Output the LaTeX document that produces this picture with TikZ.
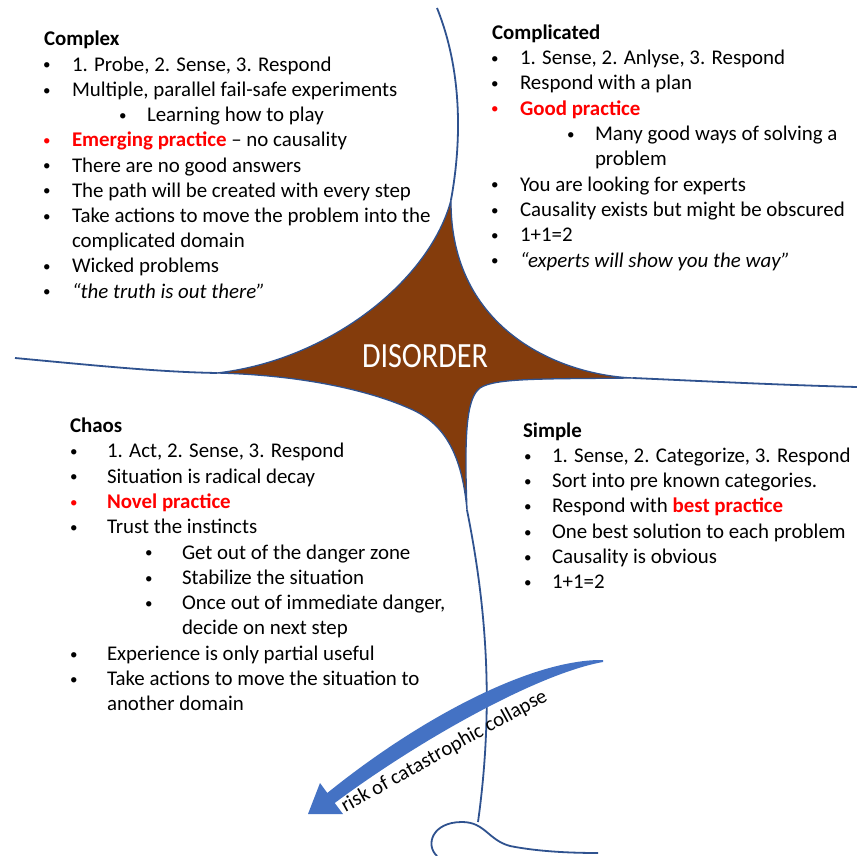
\documentclass[tikz,border=0pt]{standalone}
\usepackage{fontspec}
\usepackage{graphicx}
\setmainfont{Carlito}
\usetikzlibrary{arrows.meta,decorations.text}
\definecolor{lineblue}{HTML}{2F528F}
\definecolor{arrowblue}{HTML}{4472C4}
\definecolor{disbrown}{HTML}{843C0C}
\definecolor{pptred}{HTML}{FF0000}
\newcommand{\dotb}{\raisebox{1.2pt}{\scalebox{0.72}{•}}}
\newcommand{\bx}[2]{\makebox[#1pt][l]{#2}}
\begin{document}
\begin{tikzpicture}[x=1pt, y=-1pt,
  txt/.style={anchor=base west, inner sep=0pt, outer sep=0pt, font=\fontsize{20.9}{25}\selectfont, text=black},
  bnd/.style={draw=lineblue, line width=1.8pt},
  lobe/.style={fill=disbrown, draw=lineblue, line width=1.3pt},
  arr/.style={fill=arrowblue},
  disl/.style={text=white, inner sep=0pt},
  riskpath/.style={decorate, decoration={text along path, text align=center,
      text={|\fontsize{20.6}{24}\selectfont|risk of catastrophic collapse}}}]
\useasboundingbox[fill=white] (0,0) rectangle (857,856);

% tips of the disorder shape
\coordinate (tT) at (451,200);
\coordinate (tR) at (633,378);
\coordinate (tB) at (467,510);
\coordinate (tL) at (217,373);
\coordinate (eT) at (437,8);
\coordinate (eL) at (15,358);
\coordinate (eR) at (857,387);
\coordinate (eB) at (478,822);
\coordinate (fL) at (437,856);
\coordinate (fR) at (598,853);
\coordinate (aT) at (603,660);
\coordinate (rS) at (345,813);
\coordinate (rE) at (549,700);

% disorder shape
\filldraw[lobe] (tT) .. controls (450,330) and (560,375) .. (tR)
  .. controls (540,379) and (495,378) .. (480,388)
  .. controls (467,398) and (464,430) .. (tB)
  .. controls (462,455) and (445,425) .. (413,410)
  .. controls (370,390) and (300,375) .. (tL)
  .. controls (330,360) and (430,280) .. (tT) -- cycle;

% boundaries
\draw[bnd] (tT) .. controls (462,140) and (462,70) .. (eT);
\draw[bnd] (tL) .. controls (160,372) and (100,366) .. (eL);
\draw[bnd] (tR) .. controls (700,381) and (780,385) .. (eR);
\draw[bnd] (tB) .. controls (485,600) and (495,700) .. (eB);
\draw[bnd] (fL) .. controls (425,845) and (432,822) .. (462,822)
  .. controls (485,822) and (488,840) .. (510,846)
  .. controls (540,852) and (575,853) .. (fR);

% arrow (drawn over the boundary)
\fill[arr] (aT) .. controls (532,659) and (420,718) .. (327.3,793) -- (320,783) -- (308,814) -- (343,814) -- (334.7,803) .. controls (422,738) and (540,673) .. (603,662) -- cycle;

% label along the arrow
\path[riskpath] (rS) .. controls (410,777) and (480,737) .. (rE);

\node[disl] (dis) at (425,356.5) {\resizebox{126pt}{23pt}{DISORDER}};

% Complex
\node[txt] (cx0) at (44,46) {\textbf{Complex}};
\node[txt] (cx1) at (43,71.2) {\bx{29}{\dotb}1. Probe, 2. Sense, 3. Respond};
\node[txt] (cx2) at (43,96.4) {\bx{29}{\dotb}Multiple, parallel fail-safe experiments};
\node[txt] (cx3) at (119,121.6) {\bx{28}{\dotb}Learning how to play};
\node[txt] (cx4) at (43,146.8) {\bx{29}{\textcolor{pptred}{\dotb}}\textcolor{pptred}{\textbf{Emerging practice}} – no causality};
\node[txt] (cx5) at (43,172) {\bx{29}{\dotb}There are no good answers};
\node[txt] (cx6) at (43,197.2) {\bx{29}{\dotb}The path will be created with every step};
\node[txt] (cx7) at (43,222.4) {\bx{29}{\dotb}Take actions to move the problem into the};
\node[txt] (cx8) at (72,247.6) {complicated domain};
\node[txt] (cx9) at (43,272.8) {\bx{29}{\dotb}Wicked problems};
\node[txt] (cx10) at (43,298) {\bx{29}{\dotb}\textit{“the truth is out there”}};

% Complicated
\node[txt] (cp0) at (492,39.3) {\textbf{Complicated}};
\node[txt] (cp1) at (491,64.6) {\bx{29}{\dotb}1. Sense, 2. Anlyse, 3. Respond};
\node[txt] (cp2) at (491,89.9) {\bx{29}{\dotb}Respond with a plan};
\node[txt] (cp3) at (491,115.2) {\bx{29}{\textcolor{pptred}{\dotb}}\textcolor{pptred}{\textbf{Good practice}}};
\node[txt] (cp4) at (567,140.5) {\bx{28}{\dotb}Many good ways of solving a};
\node[txt] (cp5) at (595,165.8) {problem};
\node[txt] (cp6) at (491,191.1) {\bx{29}{\dotb}You are looking for experts};
\node[txt] (cp7) at (491,216.4) {\bx{29}{\dotb}Causality exists but might be obscured};
\node[txt] (cp8) at (491,241.7) {\bx{29}{\dotb}1+1=2};
\node[txt] (cp9) at (491,267) {\bx{29}{\dotb}\textit{“experts will show you the way”}};

% Chaos
\node[txt] (ch0) at (70,432.5) {\textbf{Chaos}};
\node[txt] (ch1) at (70,457.8) {\bx{37}{\dotb}1. Act, 2. Sense, 3. Respond};
\node[txt] (ch2) at (70,483.1) {\bx{37}{\dotb}Situation is radical decay};
\node[txt] (ch3) at (70,508.4) {\bx{37}{\textcolor{pptred}{\dotb}}\textcolor{pptred}{\textbf{Novel practice}}};
\node[txt] (ch4) at (70,533.7) {\bx{37}{\dotb}Trust the instincts};
\node[txt] (ch5) at (145,559) {\bx{37}{\dotb}Get out of the danger zone};
\node[txt] (ch6) at (145,584.3) {\bx{37}{\dotb}Stabilize the situation};
\node[txt] (ch7) at (145,609.6) {\bx{37}{\dotb}Once out of immediate danger,};
\node[txt] (ch8) at (182,634.9) {decide on next step};
\node[txt] (ch9) at (70,660.2) {\bx{37}{\dotb}Experience is only partial useful};
\node[txt] (ch10) at (70,685.5) {\bx{37}{\dotb}Take actions to move the situation to};
\node[txt] (ch11) at (107,710.8) {another domain};

% Simple
\node[txt] (sp0) at (523,437) {\textbf{Simple}};
\node[txt] (sp1) at (524,462.3) {\bx{28}{\dotb}1. Sense, 2. Categorize, 3. Respond};
\node[txt] (sp2) at (524,487.6) {\bx{28}{\dotb}Sort into pre known categories.};
\node[txt] (sp3) at (524,512.9) {\bx{28}{\dotb}Respond with \textcolor{pptred}{\textbf{best practice}}};
\node[txt] (sp4) at (524,538.2) {\bx{28}{\dotb}One best solution to each problem};
\node[txt] (sp5) at (524,563.5) {\bx{28}{\dotb}Causality is obvious};
\node[txt] (sp6) at (524,588.8) {\bx{28}{\dotb}1+1=2};
\end{tikzpicture}
\end{document}
